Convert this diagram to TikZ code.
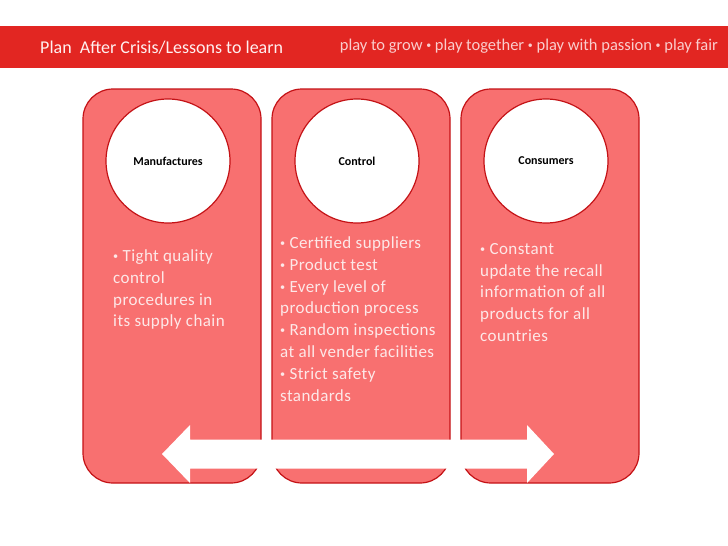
\documentclass[tikz,border=0pt]{standalone}
\usepackage{fontspec}
\setmainfont{Carlito}
\newfontfamily\bodyfont[LetterSpace=2.5]{Carlito}
\usetikzlibrary{positioning}
\definecolor{bannerred}{RGB}{226,38,34}
\definecolor{boxfill}{RGB}{248,112,112}
\definecolor{boxline}{RGB}{196,18,22}
\definecolor{tagpink}{RGB}{250,205,205}
\definecolor{bodytext}{RGB}{253,232,232}
\newcommand{\dotmark}{\raisebox{0.12em}{\scalebox{0.6}{•}}}
\tikzset{
  panel/.style={draw=boxline, fill=boxfill, line width=1.2pt, rounded corners=30pt,
    minimum width=178pt, minimum height=394pt, inner sep=0pt},
  disc/.style={circle, draw=boxline, fill=white, line width=1.2pt, minimum size=124pt,
    inner sep=0pt, font=\bfseries\fontsize{12}{14}\selectfont},
  bodytxt/.style={anchor=north west, inner sep=0pt, align=left, text=bodytext,
    font=\bodyfont\fontsize{17}{21.8}\selectfont},
}
\begin{document}
\begin{tikzpicture}[x=1pt,y=-1pt]
\useasboundingbox (0,0) rectangle (728,546);
\fill[white] (0,0) rectangle (728,546);
% banner
\fill[bannerred] (0,26) rectangle (728,68);
\node[anchor=west, inner sep=0pt, text=white!94!red, font=\fontsize{18}{21}\selectfont]
  (title) at (40,48) {Plan\ \ After Crisis/Lessons to learn};
\node[anchor=east, inner sep=0pt, text=tagpink, font=\fontsize{16.5}{20}\selectfont]
  (motto) at (718,46) {play to grow \dotmark{} play together \dotmark{} play with passion \dotmark{} play fair};
% three panels with their discs
\foreach \n/\cx/\lbl in {1/172/Manufactures, 2/361/Control, 3/550/Consumers}{
  \node[panel] (panel\n) at (\cx,286) {};
  \node[disc] (disc\n) at (\cx-4,161) {\lbl};
}
\node[bodytxt] (body1) at (113,249.5) {\dotmark{} Tight quality\\control\\procedures in\\its supply chain};
\node[bodytxt] (body2) at (280,236.5) {\dotmark{} Certified suppliers\\\dotmark{} Product test\\\dotmark{} Every level of\\production process\\\dotmark{} Random inspections\\at all vender facilities\\\dotmark{} Strict safety\\standards};
\node[bodytxt] (body3) at (480,243) {\dotmark{} Constant\\update the recall\\information of all\\products for all\\countries};
% white double arrow
\def\yA{454};
\def\xL{162};
\def\xR{554};
\coordinate (tipL) at (\xL,\yA);
\coordinate (tipR) at (\xR,\yA);
\fill[white] (tipL) -- (190,425) -- (190,439.5) -- (527,439.5) -- (527,425) -- (tipR)
  -- (527,483) -- (527,468.5) -- (190,468.5) -- (190,483) -- cycle;
\end{tikzpicture}
\end{document}
